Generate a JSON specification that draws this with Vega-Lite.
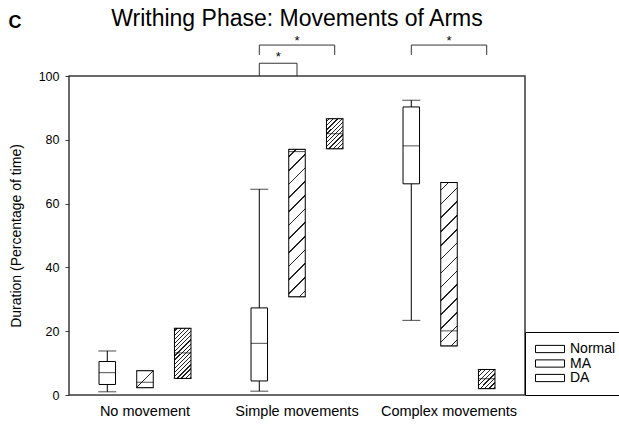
{
  "$schema": "https://vega.github.io/schema/vega-lite/v6.json",
  "padding": {"left": 8, "top": 7, "right": 0, "bottom": 0},
  "background": "white",
  "title": {"text": "C", "anchor": "start", "fontSize": 18, "fontWeight": "bold", "font": "Liberation Sans", "color": "black", "dx": 0, "dy": 29},
  "config": {
    "font": "Liberation Sans",
    "view": {"stroke": "#3a3a3a", "strokeWidth": 1.5},
    "axis": {"labelFont": "Liberation Sans", "titleFont": "Liberation Sans", "labelColor": "black", "titleColor": "black", "grid": false},
    "axisY": {"tickCount": 10, "labelOverlap": false},
    "legend": {"labelFont": "Liberation Sans"}
  },
  "vconcat": [
    {
      "title": {"text": "Writhing Phase: Movements of Arms", "anchor": "middle", "frame": "group", "fontSize": 23, "fontWeight": "normal", "color": "black", "offset": 4},
      "width": 456,
      "height": 319,
      "layer": [
        {
          "data": {"name": "boxes", "values": [
            {"group": "No movement", "series": "Normal", "min": 1.0, "q1": 3.3, "median": 7.0, "q3": 10.5, "max": 13.8},
            {"group": "No movement", "series": "MA", "min": 2.3, "q1": 2.3, "median": 4.0, "q3": 7.6, "max": 7.6},
            {"group": "No movement", "series": "DA", "min": 5.2, "q1": 5.2, "median": 13.2, "q3": 20.9, "max": 20.9},
            {"group": "Simple movements", "series": "Normal", "min": 1.2, "q1": 4.4, "median": 16.2, "q3": 27.3, "max": 64.5},
            {"group": "Simple movements", "series": "MA", "min": 30.8, "q1": 30.8, "median": 76.3, "q3": 77.0, "max": 77.0},
            {"group": "Simple movements", "series": "DA", "min": 77.2, "q1": 77.2, "median": 81.9, "q3": 86.6, "max": 86.6},
            {"group": "Complex movements", "series": "Normal", "min": 23.4, "q1": 66.2, "median": 78.1, "q3": 90.3, "max": 92.4},
            {"group": "Complex movements", "series": "MA", "min": 15.4, "q1": 15.4, "median": 20.1, "q3": 66.6, "max": 66.6},
            {"group": "Complex movements", "series": "DA", "min": 2.0, "q1": 2.0, "median": 5.1, "q3": 8.0, "max": 8.0}
          ]},
          "mark": {"type": "rule", "color": "black", "strokeWidth": 1},
          "encoding": {
            "x": {"field": "group", "type": "nominal", "sort": ["No movement", "Simple movements", "Complex movements"], "scale": {"paddingInner": 0, "paddingOuter": 0}, "axis": {"title": null, "ticks": false, "domain": false, "labelAngle": 0, "labelFontSize": 14.5, "labelPadding": 9}},
            "xOffset": {"field": "series", "type": "nominal", "sort": ["Normal", "MA", "DA"], "scale": {"paddingInner": 0.562, "paddingOuter": 0.796}},
            "y": {"field": "min", "type": "quantitative", "scale": {"domain": [0, 100], "nice": false}, "axis": {"title": "Duration (Percentage of time)", "values": [0, 10, 20, 30, 40, 50, 60, 70, 80, 90, 100], "labelOverlap": false, "domain": false, "tickSize": 4, "tickColor": "#3a3a3a", "labelFontSize": 12.5, "labelPadding": 6, "titleFontSize": 14, "titleFontWeight": "normal", "titlePadding": 15}},
            "y2": {"field": "max"}
          }
        },
        {
          "data": {"name": "boxes"},
          "mark": {"type": "tick", "color": "black", "size": 18, "thickness": 1},
          "encoding": {
            "x": {"field": "group", "type": "nominal", "sort": ["No movement", "Simple movements", "Complex movements"]},
            "xOffset": {"field": "series", "type": "nominal", "sort": ["Normal", "MA", "DA"]},
            "y": {"field": "min", "type": "quantitative"}
          }
        },
        {
          "data": {"name": "boxes"},
          "mark": {"type": "tick", "color": "black", "size": 18, "thickness": 1},
          "encoding": {
            "x": {"field": "group", "type": "nominal", "sort": ["No movement", "Simple movements", "Complex movements"]},
            "xOffset": {"field": "series", "type": "nominal", "sort": ["Normal", "MA", "DA"]},
            "y": {"field": "max", "type": "quantitative"}
          }
        },
        {
          "data": {"name": "boxes"},
          "mark": {"type": "bar", "stroke": "black", "strokeWidth": 1},
          "encoding": {
            "x": {"field": "group", "type": "nominal", "sort": ["No movement", "Simple movements", "Complex movements"]},
            "xOffset": {"field": "series", "type": "nominal", "sort": ["Normal", "MA", "DA"]},
            "y": {"field": "q1", "type": "quantitative"},
            "y2": {"field": "q3"},
            "fill": {
              "condition": [
                {"test": "datum.group === 'No movement' && datum.series === 'MA'", "value": {"gradient": "linear", "x1": 0, "y1": 0, "x2": 0.988, "y2": 1.012, "stops": [
                  {"offset": 0, "color": "#ffffff"}, {"offset": 0.4775, "color": "#ffffff"}, {"offset": 0.4775, "color": "#222222"}, {"offset": 0.5225, "color": "#222222"}, {"offset": 0.5225, "color": "#ffffff"}, {"offset": 1, "color": "#ffffff"}]}},
                {"test": "datum.group === 'No movement' && datum.series === 'DA'", "value": {"gradient": "linear", "x1": 0, "y1": 0, "x2": 0.395, "y2": 1.199, "stops": [
                  {"offset": 0, "color": "#ffffff"},
                  {"offset": 0.0313, "color": "#ffffff"}, {"offset": 0.0313, "color": "#222222"}, {"offset": 0.0508, "color": "#222222"}, {"offset": 0.0508, "color": "#ffffff"},
                  {"offset": 0.0938, "color": "#ffffff"}, {"offset": 0.0938, "color": "#222222"}, {"offset": 0.1133, "color": "#222222"}, {"offset": 0.1133, "color": "#ffffff"},
                  {"offset": 0.1563, "color": "#ffffff"}, {"offset": 0.1563, "color": "#222222"}, {"offset": 0.1758, "color": "#222222"}, {"offset": 0.1758, "color": "#ffffff"},
                  {"offset": 0.2188, "color": "#ffffff"}, {"offset": 0.2188, "color": "#222222"}, {"offset": 0.2383, "color": "#222222"}, {"offset": 0.2383, "color": "#ffffff"},
                  {"offset": 0.2813, "color": "#ffffff"}, {"offset": 0.2813, "color": "#222222"}, {"offset": 0.3008, "color": "#222222"}, {"offset": 0.3008, "color": "#ffffff"},
                  {"offset": 0.3438, "color": "#ffffff"}, {"offset": 0.3438, "color": "#222222"}, {"offset": 0.3633, "color": "#222222"}, {"offset": 0.3633, "color": "#ffffff"},
                  {"offset": 0.4063, "color": "#ffffff"}, {"offset": 0.4063, "color": "#222222"}, {"offset": 0.4258, "color": "#222222"}, {"offset": 0.4258, "color": "#ffffff"},
                  {"offset": 0.4688, "color": "#ffffff"}, {"offset": 0.4688, "color": "#222222"}, {"offset": 0.4883, "color": "#222222"}, {"offset": 0.4883, "color": "#ffffff"},
                  {"offset": 0.5313, "color": "#ffffff"}, {"offset": 0.5313, "color": "#222222"}, {"offset": 0.5508, "color": "#222222"}, {"offset": 0.5508, "color": "#ffffff"},
                  {"offset": 0.5938, "color": "#ffffff"}, {"offset": 0.5938, "color": "#222222"}, {"offset": 0.6133, "color": "#222222"}, {"offset": 0.6133, "color": "#ffffff"},
                  {"offset": 0.6563, "color": "#ffffff"}, {"offset": 0.6563, "color": "#222222"}, {"offset": 0.6758, "color": "#222222"}, {"offset": 0.6758, "color": "#ffffff"},
                  {"offset": 0.7188, "color": "#ffffff"}, {"offset": 0.7188, "color": "#222222"}, {"offset": 0.7383, "color": "#222222"}, {"offset": 0.7383, "color": "#ffffff"},
                  {"offset": 0.7813, "color": "#ffffff"}, {"offset": 0.7813, "color": "#222222"}, {"offset": 0.8008, "color": "#222222"}, {"offset": 0.8008, "color": "#ffffff"},
                  {"offset": 0.8438, "color": "#ffffff"}, {"offset": 0.8438, "color": "#222222"}, {"offset": 0.8633, "color": "#222222"}, {"offset": 0.8633, "color": "#ffffff"},
                  {"offset": 0.9063, "color": "#ffffff"}, {"offset": 0.9063, "color": "#222222"}, {"offset": 0.9258, "color": "#222222"}, {"offset": 0.9258, "color": "#ffffff"},
                  {"offset": 0.9688, "color": "#ffffff"}, {"offset": 0.9688, "color": "#222222"}, {"offset": 0.9883, "color": "#222222"}, {"offset": 0.9883, "color": "#ffffff"},
                  {"offset": 1, "color": "#ffffff"}]}},
                {"test": "datum.group === 'Simple movements' && datum.series === 'MA'", "value": {"gradient": "linear", "x1": 0, "y1": 0, "x2": 0.1229, "y2": 1.0982, "stops": [
                  {"offset": 0, "color": "#ffffff"},
                  {"offset": 0.0417, "color": "#ffffff"}, {"offset": 0.0417, "color": "#222222"}, {"offset": 0.0508, "color": "#222222"}, {"offset": 0.0508, "color": "#ffffff"},
                  {"offset": 0.125, "color": "#ffffff"}, {"offset": 0.125, "color": "#222222"}, {"offset": 0.1342, "color": "#222222"}, {"offset": 0.1342, "color": "#ffffff"},
                  {"offset": 0.2083, "color": "#ffffff"}, {"offset": 0.2083, "color": "#222222"}, {"offset": 0.2175, "color": "#222222"}, {"offset": 0.2175, "color": "#ffffff"},
                  {"offset": 0.2917, "color": "#ffffff"}, {"offset": 0.2917, "color": "#222222"}, {"offset": 0.3008, "color": "#222222"}, {"offset": 0.3008, "color": "#ffffff"},
                  {"offset": 0.375, "color": "#ffffff"}, {"offset": 0.375, "color": "#222222"}, {"offset": 0.3842, "color": "#222222"}, {"offset": 0.3842, "color": "#ffffff"},
                  {"offset": 0.4583, "color": "#ffffff"}, {"offset": 0.4583, "color": "#222222"}, {"offset": 0.4675, "color": "#222222"}, {"offset": 0.4675, "color": "#ffffff"},
                  {"offset": 0.5417, "color": "#ffffff"}, {"offset": 0.5417, "color": "#222222"}, {"offset": 0.5508, "color": "#222222"}, {"offset": 0.5508, "color": "#ffffff"},
                  {"offset": 0.625, "color": "#ffffff"}, {"offset": 0.625, "color": "#222222"}, {"offset": 0.6342, "color": "#222222"}, {"offset": 0.6342, "color": "#ffffff"},
                  {"offset": 0.7083, "color": "#ffffff"}, {"offset": 0.7083, "color": "#222222"}, {"offset": 0.7175, "color": "#222222"}, {"offset": 0.7175, "color": "#ffffff"},
                  {"offset": 0.7917, "color": "#ffffff"}, {"offset": 0.7917, "color": "#222222"}, {"offset": 0.8008, "color": "#222222"}, {"offset": 0.8008, "color": "#ffffff"},
                  {"offset": 0.875, "color": "#ffffff"}, {"offset": 0.875, "color": "#222222"}, {"offset": 0.8842, "color": "#222222"}, {"offset": 0.8842, "color": "#ffffff"},
                  {"offset": 0.9583, "color": "#ffffff"}, {"offset": 0.9583, "color": "#222222"}, {"offset": 0.9675, "color": "#222222"}, {"offset": 0.9675, "color": "#ffffff"},
                  {"offset": 1, "color": "#ffffff"}]}},
                {"test": "datum.group === 'Simple movements' && datum.series === 'DA'", "value": {"gradient": "linear", "x1": 0, "y1": 0, "x2": 0.6545, "y2": 1.19, "stops": [
                  {"offset": 0, "color": "#ffffff"},
                  {"offset": 0.0455, "color": "#ffffff"}, {"offset": 0.0455, "color": "#222222"}, {"offset": 0.0735, "color": "#222222"}, {"offset": 0.0735, "color": "#ffffff"},
                  {"offset": 0.1364, "color": "#ffffff"}, {"offset": 0.1364, "color": "#222222"}, {"offset": 0.1644, "color": "#222222"}, {"offset": 0.1644, "color": "#ffffff"},
                  {"offset": 0.2273, "color": "#ffffff"}, {"offset": 0.2273, "color": "#222222"}, {"offset": 0.2553, "color": "#222222"}, {"offset": 0.2553, "color": "#ffffff"},
                  {"offset": 0.3182, "color": "#ffffff"}, {"offset": 0.3182, "color": "#222222"}, {"offset": 0.3462, "color": "#222222"}, {"offset": 0.3462, "color": "#ffffff"},
                  {"offset": 0.4091, "color": "#ffffff"}, {"offset": 0.4091, "color": "#222222"}, {"offset": 0.4371, "color": "#222222"}, {"offset": 0.4371, "color": "#ffffff"},
                  {"offset": 0.5, "color": "#ffffff"}, {"offset": 0.5, "color": "#222222"}, {"offset": 0.528, "color": "#222222"}, {"offset": 0.528, "color": "#ffffff"},
                  {"offset": 0.5909, "color": "#ffffff"}, {"offset": 0.5909, "color": "#222222"}, {"offset": 0.6189, "color": "#222222"}, {"offset": 0.6189, "color": "#ffffff"},
                  {"offset": 0.6818, "color": "#ffffff"}, {"offset": 0.6818, "color": "#222222"}, {"offset": 0.7098, "color": "#222222"}, {"offset": 0.7098, "color": "#ffffff"},
                  {"offset": 0.7727, "color": "#ffffff"}, {"offset": 0.7727, "color": "#222222"}, {"offset": 0.8007, "color": "#222222"}, {"offset": 0.8007, "color": "#ffffff"},
                  {"offset": 0.8636, "color": "#ffffff"}, {"offset": 0.8636, "color": "#222222"}, {"offset": 0.8916, "color": "#222222"}, {"offset": 0.8916, "color": "#ffffff"},
                  {"offset": 0.9545, "color": "#ffffff"}, {"offset": 0.9545, "color": "#222222"}, {"offset": 0.9825, "color": "#222222"}, {"offset": 0.9825, "color": "#ffffff"},
                  {"offset": 1, "color": "#ffffff"}]}},
                {"test": "datum.group === 'Complex movements' && datum.series === 'MA'", "value": {"gradient": "linear", "x1": 0, "y1": 0, "x2": 0.1101, "y2": 1.0899, "stops": [
                  {"offset": 0, "color": "#ffffff"},
                  {"offset": 0.0385, "color": "#ffffff"}, {"offset": 0.0385, "color": "#222222"}, {"offset": 0.0468, "color": "#222222"}, {"offset": 0.0468, "color": "#ffffff"},
                  {"offset": 0.1154, "color": "#ffffff"}, {"offset": 0.1154, "color": "#222222"}, {"offset": 0.1237, "color": "#222222"}, {"offset": 0.1237, "color": "#ffffff"},
                  {"offset": 0.1923, "color": "#ffffff"}, {"offset": 0.1923, "color": "#222222"}, {"offset": 0.2006, "color": "#222222"}, {"offset": 0.2006, "color": "#ffffff"},
                  {"offset": 0.2692, "color": "#ffffff"}, {"offset": 0.2692, "color": "#222222"}, {"offset": 0.2776, "color": "#222222"}, {"offset": 0.2776, "color": "#ffffff"},
                  {"offset": 0.3462, "color": "#ffffff"}, {"offset": 0.3462, "color": "#222222"}, {"offset": 0.3545, "color": "#222222"}, {"offset": 0.3545, "color": "#ffffff"},
                  {"offset": 0.4231, "color": "#ffffff"}, {"offset": 0.4231, "color": "#222222"}, {"offset": 0.4314, "color": "#222222"}, {"offset": 0.4314, "color": "#ffffff"},
                  {"offset": 0.5, "color": "#ffffff"}, {"offset": 0.5, "color": "#222222"}, {"offset": 0.5083, "color": "#222222"}, {"offset": 0.5083, "color": "#ffffff"},
                  {"offset": 0.5769, "color": "#ffffff"}, {"offset": 0.5769, "color": "#222222"}, {"offset": 0.5853, "color": "#222222"}, {"offset": 0.5853, "color": "#ffffff"},
                  {"offset": 0.6538, "color": "#ffffff"}, {"offset": 0.6538, "color": "#222222"}, {"offset": 0.6622, "color": "#222222"}, {"offset": 0.6622, "color": "#ffffff"},
                  {"offset": 0.7308, "color": "#ffffff"}, {"offset": 0.7308, "color": "#222222"}, {"offset": 0.7391, "color": "#222222"}, {"offset": 0.7391, "color": "#ffffff"},
                  {"offset": 0.8077, "color": "#ffffff"}, {"offset": 0.8077, "color": "#222222"}, {"offset": 0.816, "color": "#222222"}, {"offset": 0.816, "color": "#ffffff"},
                  {"offset": 0.8846, "color": "#ffffff"}, {"offset": 0.8846, "color": "#222222"}, {"offset": 0.893, "color": "#222222"}, {"offset": 0.893, "color": "#ffffff"},
                  {"offset": 0.9615, "color": "#ffffff"}, {"offset": 0.9615, "color": "#222222"}, {"offset": 0.9699, "color": "#222222"}, {"offset": 0.9699, "color": "#ffffff"},
                  {"offset": 1, "color": "#ffffff"}]}},
                {"test": "datum.group === 'Complex movements' && datum.series === 'DA'", "value": {"gradient": "linear", "x1": 0, "y1": 0, "x2": 0.922, "y2": 1.0674, "stops": [
                  {"offset": 0, "color": "#ffffff"},
                  {"offset": 0.0625, "color": "#ffffff"}, {"offset": 0.0625, "color": "#222222"}, {"offset": 0.099, "color": "#222222"}, {"offset": 0.099, "color": "#ffffff"},
                  {"offset": 0.1875, "color": "#ffffff"}, {"offset": 0.1875, "color": "#222222"}, {"offset": 0.224, "color": "#222222"}, {"offset": 0.224, "color": "#ffffff"},
                  {"offset": 0.3125, "color": "#ffffff"}, {"offset": 0.3125, "color": "#222222"}, {"offset": 0.349, "color": "#222222"}, {"offset": 0.349, "color": "#ffffff"},
                  {"offset": 0.4375, "color": "#ffffff"}, {"offset": 0.4375, "color": "#222222"}, {"offset": 0.474, "color": "#222222"}, {"offset": 0.474, "color": "#ffffff"},
                  {"offset": 0.5625, "color": "#ffffff"}, {"offset": 0.5625, "color": "#222222"}, {"offset": 0.599, "color": "#222222"}, {"offset": 0.599, "color": "#ffffff"},
                  {"offset": 0.6875, "color": "#ffffff"}, {"offset": 0.6875, "color": "#222222"}, {"offset": 0.724, "color": "#222222"}, {"offset": 0.724, "color": "#ffffff"},
                  {"offset": 0.8125, "color": "#ffffff"}, {"offset": 0.8125, "color": "#222222"}, {"offset": 0.849, "color": "#222222"}, {"offset": 0.849, "color": "#ffffff"},
                  {"offset": 0.9375, "color": "#ffffff"}, {"offset": 0.9375, "color": "#222222"}, {"offset": 0.974, "color": "#222222"}, {"offset": 0.974, "color": "#ffffff"},
                  {"offset": 1, "color": "#ffffff"}]}}
              ],
              "field": "series",
              "type": "nominal",
              "scale": {"domain": ["Normal", "MA", "DA"], "range": ["#ffffff", "#ffffff", "#ffffff"]},
              "legend": {
                "title": null,
                "orient": "none",
                "legendX": 456,
                "legendY": 256,
                "padding": 10,
                "strokeColor": "black",
                "fillColor": "white",
                "symbolType": "M-4,-1H4V1H-4Z",
                "symbolSize": 52.5625,
                "symbolOffset": 8,
                "symbolStrokeColor": "black",
                "symbolStrokeWidth": 1,
                "symbolOpacity": 1,
                "labelFontSize": 14,
                "labelColor": "black",
                "labelOffset": 13,
                "rowPadding": 0.5,
                "encode": {
                  "symbols": {
                    "update": {
                      "shape": {"value": "M-4,-1H4V1H-4Z"},
                      "size": {"value": 52.5625},
                      "stroke": {"value": "black"},
                      "strokeWidth": {"value": 1},
                      "opacity": {"value": 1},
                      "fillOpacity": {"value": 1},
                      "strokeOpacity": {"value": 1},
                      "fill": [
                        {"test": "datum.value === 'MA'", "value": {"gradient": "linear", "x1": 0, "y1": 0, "x2": 1.1765, "y2": 0.2941, "stops": [
                          {"offset": 0, "color": "#ffffff"}, {"offset": 0.28, "color": "#ffffff"}, {"offset": 0.28, "color": "#222222"}, {"offset": 0.32, "color": "#222222"}, {"offset": 0.32, "color": "#ffffff"}, {"offset": 0.68, "color": "#ffffff"}, {"offset": 0.68, "color": "#222222"}, {"offset": 0.72, "color": "#222222"}, {"offset": 0.72, "color": "#ffffff"}, {"offset": 1, "color": "#ffffff"}]}},
                        {"test": "datum.value === 'DA'", "value": {"gradient": "linear", "x1": 0, "y1": 0, "x2": 1.1765, "y2": 0.2941, "stops": [
                          {"offset": 0, "color": "#ffffff"},
                          {"offset": 0.0625, "color": "#ffffff"}, {"offset": 0.0625, "color": "#222222"}, {"offset": 0.099, "color": "#222222"}, {"offset": 0.099, "color": "#ffffff"},
                          {"offset": 0.1875, "color": "#ffffff"}, {"offset": 0.1875, "color": "#222222"}, {"offset": 0.224, "color": "#222222"}, {"offset": 0.224, "color": "#ffffff"},
                          {"offset": 0.3125, "color": "#ffffff"}, {"offset": 0.3125, "color": "#222222"}, {"offset": 0.349, "color": "#222222"}, {"offset": 0.349, "color": "#ffffff"},
                          {"offset": 0.4375, "color": "#ffffff"}, {"offset": 0.4375, "color": "#222222"}, {"offset": 0.474, "color": "#222222"}, {"offset": 0.474, "color": "#ffffff"},
                          {"offset": 0.5625, "color": "#ffffff"}, {"offset": 0.5625, "color": "#222222"}, {"offset": 0.599, "color": "#222222"}, {"offset": 0.599, "color": "#ffffff"},
                          {"offset": 0.6875, "color": "#ffffff"}, {"offset": 0.6875, "color": "#222222"}, {"offset": 0.724, "color": "#222222"}, {"offset": 0.724, "color": "#ffffff"},
                          {"offset": 0.8125, "color": "#ffffff"}, {"offset": 0.8125, "color": "#222222"}, {"offset": 0.849, "color": "#222222"}, {"offset": 0.849, "color": "#ffffff"},
                          {"offset": 0.9375, "color": "#ffffff"}, {"offset": 0.9375, "color": "#222222"}, {"offset": 0.974, "color": "#222222"}, {"offset": 0.974, "color": "#ffffff"},
                          {"offset": 1, "color": "#ffffff"}]}},
                        {"value": "#ffffff"}
                      ]
                    }
                  }
                }
              }
            }
          }
        },
        {
          "data": {"name": "boxes"},
          "mark": {"type": "tick", "color": "black", "size": 16.5, "thickness": 1},
          "encoding": {
            "x": {"field": "group", "type": "nominal", "sort": ["No movement", "Simple movements", "Complex movements"]},
            "xOffset": {"field": "series", "type": "nominal", "sort": ["Normal", "MA", "DA"]},
            "y": {"field": "median", "type": "quantitative"}
          }
        },
        {
          "data": {"values": [
            {"bracket": "simple-outer", "group": "Simple movements", "series": "Normal", "y": 106.6, "ord": 1},
            {"bracket": "simple-outer", "group": "Simple movements", "series": "Normal", "y": 109.7, "ord": 2},
            {"bracket": "simple-outer", "group": "Simple movements", "series": "DA", "y": 109.7, "ord": 3},
            {"bracket": "simple-outer", "group": "Simple movements", "series": "DA", "y": 106.6, "ord": 4},
            {"bracket": "simple-inner", "group": "Simple movements", "series": "Normal", "y": 100, "ord": 1},
            {"bracket": "simple-inner", "group": "Simple movements", "series": "Normal", "y": 104, "ord": 2},
            {"bracket": "simple-inner", "group": "Simple movements", "series": "MA", "y": 104, "ord": 3},
            {"bracket": "simple-inner", "group": "Simple movements", "series": "MA", "y": 100, "ord": 4},
            {"bracket": "complex", "group": "Complex movements", "series": "Normal", "y": 106.6, "ord": 1},
            {"bracket": "complex", "group": "Complex movements", "series": "Normal", "y": 109.7, "ord": 2},
            {"bracket": "complex", "group": "Complex movements", "series": "DA", "y": 109.7, "ord": 3},
            {"bracket": "complex", "group": "Complex movements", "series": "DA", "y": 106.6, "ord": 4}
          ]},
          "mark": {"type": "line", "color": "#333333", "strokeWidth": 1},
          "encoding": {
            "x": {"field": "group", "type": "nominal", "sort": ["No movement", "Simple movements", "Complex movements"]},
            "xOffset": {"field": "series", "type": "nominal", "sort": ["Normal", "MA", "DA"]},
            "y": {"field": "y", "type": "quantitative"},
            "detail": {"field": "bracket"},
            "order": {"field": "ord", "type": "quantitative"}
          }
        },
        {
          "data": {"values": [
            {"group": "Simple movements", "series": "MA", "y": 111, "label": "*"},
            {"group": "Complex movements", "series": "MA", "y": 111, "label": "*"}
          ]},
          "mark": {"type": "text", "fontSize": 13, "baseline": "middle", "color": "black"},
          "encoding": {
            "x": {"field": "group", "type": "nominal", "sort": ["No movement", "Simple movements", "Complex movements"]},
            "xOffset": {"field": "series", "type": "nominal", "sort": ["Normal", "MA", "DA"]},
            "y": {"field": "y", "type": "quantitative"},
            "text": {"field": "label"}
          }
        },
        {
          "data": {"values": [
            {"group": "Simple movements", "series": "Normal", "y": 106, "label": "*"}
          ]},
          "mark": {"type": "text", "fontSize": 13, "baseline": "middle", "color": "black", "dx": 19},
          "encoding": {
            "x": {"field": "group", "type": "nominal", "sort": ["No movement", "Simple movements", "Complex movements"]},
            "xOffset": {"field": "series", "type": "nominal", "sort": ["Normal", "MA", "DA"]},
            "y": {"field": "y", "type": "quantitative"},
            "text": {"field": "label"}
          }
        }
      ]
    }
  ]
}
